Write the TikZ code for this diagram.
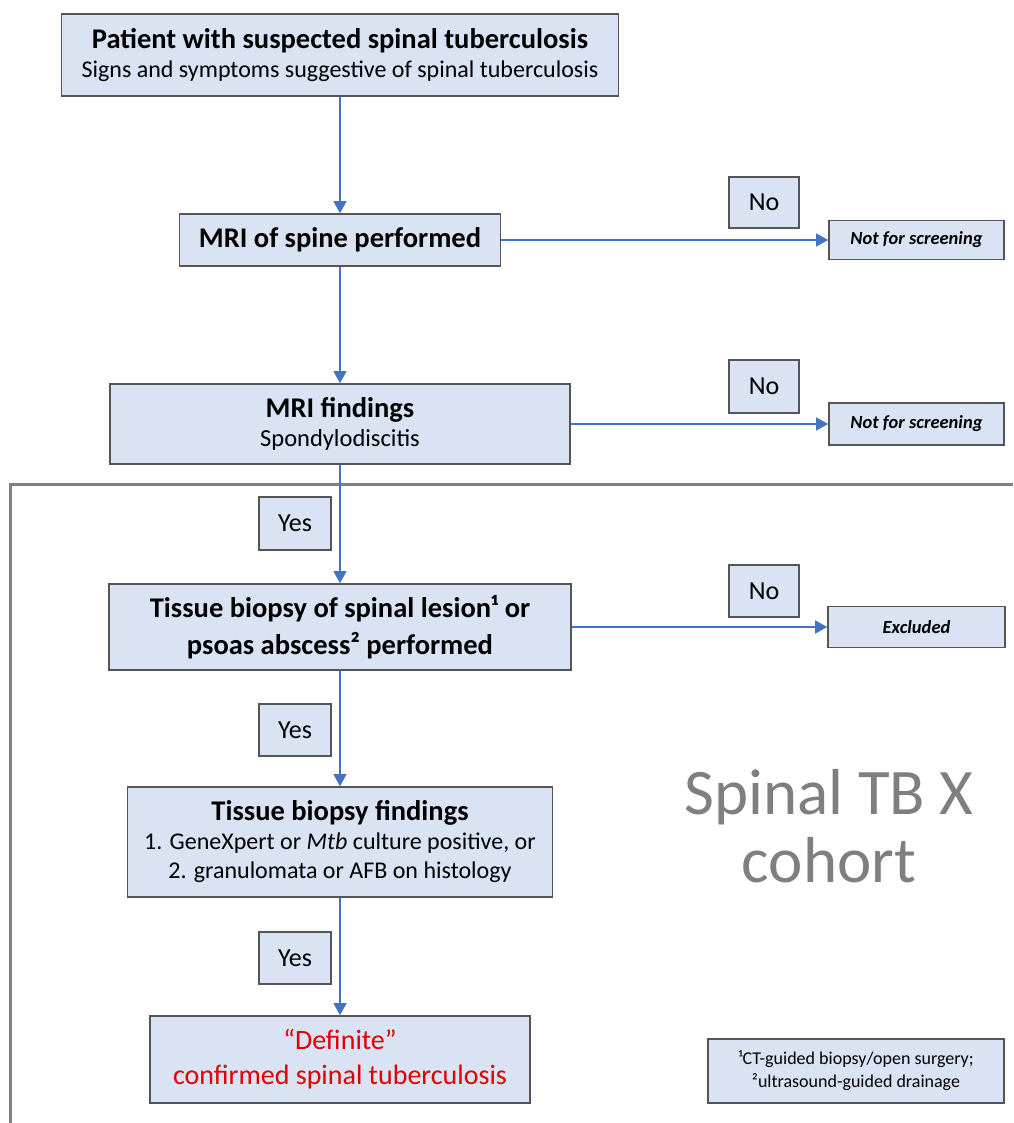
\documentclass[tikz,border=0pt]{standalone}
\usepackage{fontspec}
\setmainfont{Carlito}
\usetikzlibrary{arrows.meta}
\definecolor{boxfill}{HTML}{DAE3F3}
\definecolor{boxline}{HTML}{555555}
\definecolor{arrowblue}{HTML}{4472C4}
\definecolor{framegray}{HTML}{7F7F7F}
\definecolor{defred}{HTML}{E00000}
\tikzset{
  fbox/.style={draw=boxline, fill=boxfill, line width=1.6pt, inner sep=0pt, align=center, anchor=center},
  flow/.style={draw=arrowblue, line width=1.2pt, -{Triangle[length=12pt,width=13pt]}},
  hd/.style={font=\fontsize{28.5}{34}\selectfont\bfseries},
  yn/.style={fbox, font=\fontsize{26}{30}\selectfont},
  side/.style={fbox, font=\fontsize{18.5}{22}\selectfont\bfseries\itshape},
}
\newcommand{\hdf}{\fontsize{28.5}{32}\selectfont\bfseries}
\newcommand{\subf}[1]{\fontsize{#1}{#1}\selectfont\mdseries}
\begin{document}
\begin{tikzpicture}[x=1pt,y=-1pt]
\useasboundingbox (0,0) rectangle (1013,1123);
% cohort frame
\draw[framegray, line width=3pt] (10,1123) -- (10,484) -- (1013,484);

\node[fbox, minimum width=557pt, minimum height=82pt] (top) at (340,55)
  {\hdf Patient with suspected spinal tuberculosis\\[7pt]
   \subf{24}Signs and symptoms suggestive of spinal tuberculosis};
\node[fbox, minimum width=321pt, minimum height=52pt, hd] (mri) at (340,240)
  {MRI of spine performed};
\node[fbox, minimum width=460pt, minimum height=80pt] (mrif) at (340,424)
  {\hdf MRI findings\\[6pt]
   \subf{24.5}Spondylodiscitis};
\node[fbox, minimum width=462pt, minimum height=86pt, font=\fontsize{28.5}{37}\selectfont\bfseries] (tis) at (340,627)
  {Tissue biopsy of spinal lesion¹ or\\ psoas abscess² performed};
\node[fbox, minimum width=425pt, minimum height=110pt] (tbf) at (340,842)
  {\hdf Tissue biopsy findings\\[6pt]
   \subf{24}1. GeneXpert or \textit{Mtb} culture positive, or\\[8pt]
   \subf{24}2. granulomata or AFB on histology};
\node[fbox, minimum width=380pt, minimum height=87pt, text=defred, font=\fontsize{28}{35}\selectfont] (def) at (340,1059.5)
  {“Definite”\\ confirmed spinal tuberculosis};

\node[side, minimum width=175pt, minimum height=39pt] (nfs1) at (916.5,240) {Not for screening};
\node[side, minimum width=175pt, minimum height=42pt] (nfs2) at (916.5,424) {Not for screening};
\node[side, minimum width=177pt, minimum height=41pt] (exc) at (916.5,627) {Excluded};

\node[yn, minimum width=70pt, minimum height=51pt] (no1) at (764,202.5) {No};
\node[yn, minimum width=70pt, minimum height=53pt] (no2) at (764,386.5) {No};
\node[yn, minimum width=70pt, minimum height=52pt] (no3) at (764,591) {No};
\node[yn, minimum width=72pt, minimum height=53pt] (yes1) at (295,523.5) {Yes};
\node[yn, minimum width=72pt, minimum height=52pt] (yes2) at (295,730) {Yes};
\node[yn, minimum width=72pt, minimum height=52pt] (yes3) at (295,958) {Yes};

\node[fbox, minimum width=296pt, minimum height=64pt, font=\fontsize{18}{23}\selectfont] (foot) at (856,1071)
  {¹CT-guided biopsy/open surgery;\\ ²ultrasound-guided drainage};

\node[text=framegray, align=center, font=\fontsize{65}{68}\selectfont, inner sep=0pt] (cohort) at (829,826)
  {Spinal TB X\\ cohort};

% connectors
\draw[flow] (top) -- (mri);
\draw[flow] (mri) -- (mrif);
\draw[flow] (mrif) -- (tis);
\draw[flow] (tis) -- (tbf);
\draw[flow] (tbf) -- (def);
\draw[flow] (mri) -- (nfs1);
\draw[flow] (mrif) -- (nfs2);
\draw[flow] (tis) -- (exc);
\end{tikzpicture}
\end{document}
